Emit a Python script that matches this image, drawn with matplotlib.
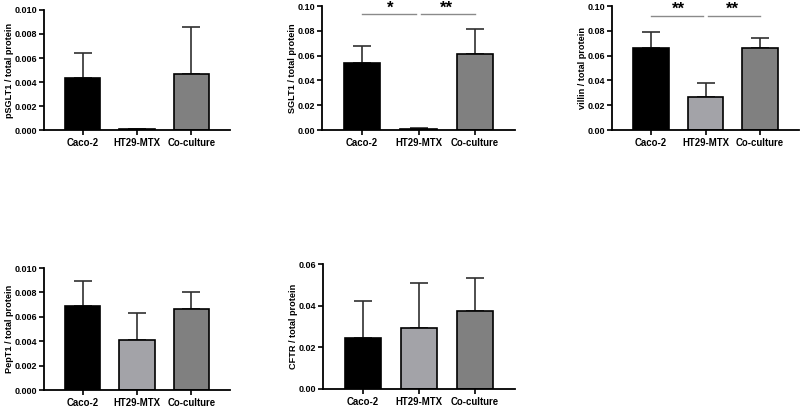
import matplotlib
matplotlib.use("Agg")
import matplotlib.pyplot as plt
import numpy as np

plt.rcParams["font.family"] = ["Liberation Sans", "DejaVu Sans"]
plt.rcParams["font.weight"] = "bold"

# Data
groups = ["Caco-2", "HT29-MTX", "Co-culture"]
bar_colors = ["#000000", "#A3A3A8", "#808080"]

psglt1_mean = [0.00436, 0.00008, 0.00467]
psglt1_err = [0.00208, 0.00003, 0.00388]

sglt1_mean = [0.0538, 0.0010, 0.0610]
sglt1_err = [0.0139, 0.0009, 0.0205]

villin_mean = [0.0664, 0.0263, 0.0664]
villin_err = [0.0129, 0.0119, 0.0075]

pept1_mean = [0.00687, 0.00407, 0.00665]
pept1_err = [0.00203, 0.00225, 0.00137]

cftr_mean = [0.0246, 0.0293, 0.0373]
cftr_err = [0.0176, 0.0214, 0.0160]

sglt1_sig = [("*", 0, 1, 0.0933), ("**", 1, 2, 0.0933)]
villin_sig = [("**", 0, 1, 0.0922), ("**", 1, 2, 0.0922)]

W, H = 800, 408
fig = plt.figure(figsize=(W / 100, H / 100), dpi=100)


def make_axes(left, right, top, bottom):
    return fig.add_axes([left / W, 1 - bottom / H, (right - left) / W, (bottom - top) / H])


def bar_panel(ax, means, errs, ylabel, ymax, ystep, fmt, sig=None):
    x = np.arange(len(groups))
    ax.bar(x, means, width=0.65, color=bar_colors, edgecolor="black",
           linewidth=1.2, zorder=2)
    ax.errorbar(x, means, yerr=[np.zeros(len(errs)), errs], fmt="none",
                ecolor="#303030", elinewidth=1.2, capsize=6.5, capthick=1.2,
                zorder=1)
    ax.set_xlim(-0.71, 2.71)
    ax.set_ylim(0, ymax)
    ticks = np.arange(0, ymax + ystep / 2, ystep)
    ax.set_yticks(ticks)
    ax.set_yticklabels([fmt.format(v) for v in ticks])
    ax.set_xticks(x)
    ax.set_xticklabels(groups, fontsize=6.9)
    ax.set_ylabel(ylabel, fontsize=6.6, fontweight="bold", labelpad=0.5)
    for s in ["top", "right"]:
        ax.spines[s].set_visible(False)
    for s in ["left", "bottom"]:
        ax.spines[s].set_linewidth(1.3)
    ax.tick_params(axis="y", labelsize=6.5, width=1.2, length=3.5, pad=1.5)
    ax.tick_params(axis="x", width=1.2, length=3.5, pad=2.5)
    if sig:
        for label, i, j, y in sig:
            x0 = i + (0.05 if i > 0 else 0)
            x1 = j - (0.05 if j < 2 else 0)
            ax.plot([x0, x1], [y, y], color="#8a8a8a", linewidth=1.0, clip_on=False)
            ax.text((i + j) / 2, y - ymax * 0.01, label, ha="center", va="bottom",
                    fontsize=12, fontweight="bold", clip_on=False)


ax1 = make_axes(44, 230, 10, 130)
bar_panel(ax1, psglt1_mean, psglt1_err, "pSGLT1 / total protein", 0.010, 0.002, "{:.3f}")

ax2 = make_axes(322, 515, 6, 130)
bar_panel(ax2, sglt1_mean, sglt1_err, "SGLT1 / total protein", 0.10, 0.02, "{:.2f}", sglt1_sig)

ax3 = make_axes(612, 799, 6, 130)
bar_panel(ax3, villin_mean, villin_err, "villin / total protein", 0.10, 0.02, "{:.2f}", villin_sig)

ax4 = make_axes(44, 230, 268, 390)
bar_panel(ax4, pept1_mean, pept1_err, "PepT1 / total protein", 0.010, 0.002, "{:.3f}")

ax5 = make_axes(323, 515, 264, 389)
bar_panel(ax5, cftr_mean, cftr_err, "CFTR / total protein", 0.06, 0.02, "{:.2f}")

fig.savefig("out.png", dpi=100)
